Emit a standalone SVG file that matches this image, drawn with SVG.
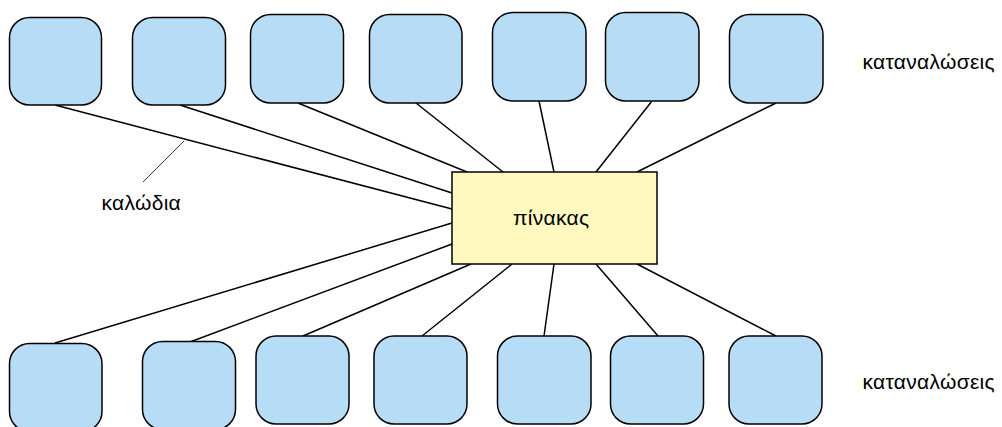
<svg xmlns="http://www.w3.org/2000/svg" width="1002" height="427" viewBox="0 0 1002 427">
<style>
.load{fill:#b6ddf5;stroke:#000;stroke-width:1.5}
.panel{fill:#fff9c0;stroke:#000;stroke-width:1.5}
.wire{stroke:#000;stroke-width:1.5;fill:none}
.lead{stroke:#000;stroke-width:0.8;fill:none}
text{font-family:"Liberation Sans",Arial,sans-serif;font-size:21px;letter-spacing:0.3px;fill:#000}
</style>
<rect width="1002" height="427" fill="#fff"/>
<g id="connectors">
<line class="wire" x1="55" y1="105" x2="452" y2="209"/>
<line class="wire" x1="180" y1="105" x2="452" y2="193"/>
<line class="wire" x1="298" y1="103" x2="467" y2="172"/>
<line class="wire" x1="416" y1="103" x2="503" y2="172"/>
<line class="wire" x1="539" y1="101" x2="554" y2="172"/>
<line class="wire" x1="652" y1="101" x2="596" y2="172"/>
<line class="wire" x1="776" y1="103" x2="637" y2="172"/>
<line class="wire" x1="452" y1="223" x2="55" y2="343"/>
<line class="wire" x1="452" y1="244" x2="190" y2="342"/>
<line class="wire" x1="471" y1="264" x2="303" y2="336"/>
<line class="wire" x1="512" y1="264" x2="422" y2="336"/>
<line class="wire" x1="554" y1="264" x2="544" y2="336"/>
<line class="wire" x1="596" y1="264" x2="658" y2="336"/>
<line class="wire" x1="637" y1="264" x2="776" y2="336"/>
<line class="lead" x1="184" y1="141" x2="143" y2="182"/>
</g>
<g id="top1"><rect class="load" x="9.5" y="17.5" width="92" height="87.5" rx="20"/></g>
<g id="top2"><rect class="load" x="132.5" y="17.5" width="93" height="87.5" rx="20"/></g>
<g id="top3"><rect class="load" x="250.5" y="14.5" width="93" height="88.5" rx="20"/></g>
<g id="top4"><rect class="load" x="369.5" y="14.5" width="92.5" height="88.5" rx="20"/></g>
<g id="top5"><rect class="load" x="492.5" y="12.5" width="93.5" height="88.5" rx="20"/></g>
<g id="top6"><rect class="load" x="605.5" y="12.5" width="93.5" height="88.5" rx="20"/></g>
<g id="top7"><rect class="load" x="729.5" y="14.5" width="93.5" height="88.5" rx="20"/></g>
<g id="bot1"><rect class="load" x="9.5" y="343.5" width="92.5" height="88" rx="20"/></g>
<g id="bot2"><rect class="load" x="142.5" y="341.5" width="93" height="88" rx="20"/></g>
<g id="bot3"><rect class="load" x="256" y="336" width="93" height="88" rx="20"/></g>
<g id="bot4"><rect class="load" x="374" y="336" width="93" height="88" rx="20"/></g>
<g id="bot5"><rect class="load" x="497.5" y="336" width="93.5" height="88" rx="20"/></g>
<g id="bot6"><rect class="load" x="610.5" y="336" width="93" height="88" rx="20"/></g>
<g id="bot7"><rect class="load" x="729" y="336" width="93" height="88" rx="20"/></g>
<g id="panel"><rect class="panel" x="452" y="172" width="205" height="92"/><text x="513" y="225">πίνακας</text></g>
<g id="label-cables"><text x="101.5" y="210">καλώδια</text></g>
<g id="label-loads-top"><text x="862.5" y="69">καταναλώσεις</text></g>
<g id="label-loads-bottom"><text x="862.5" y="389">καταναλώσεις</text></g>
</svg>
